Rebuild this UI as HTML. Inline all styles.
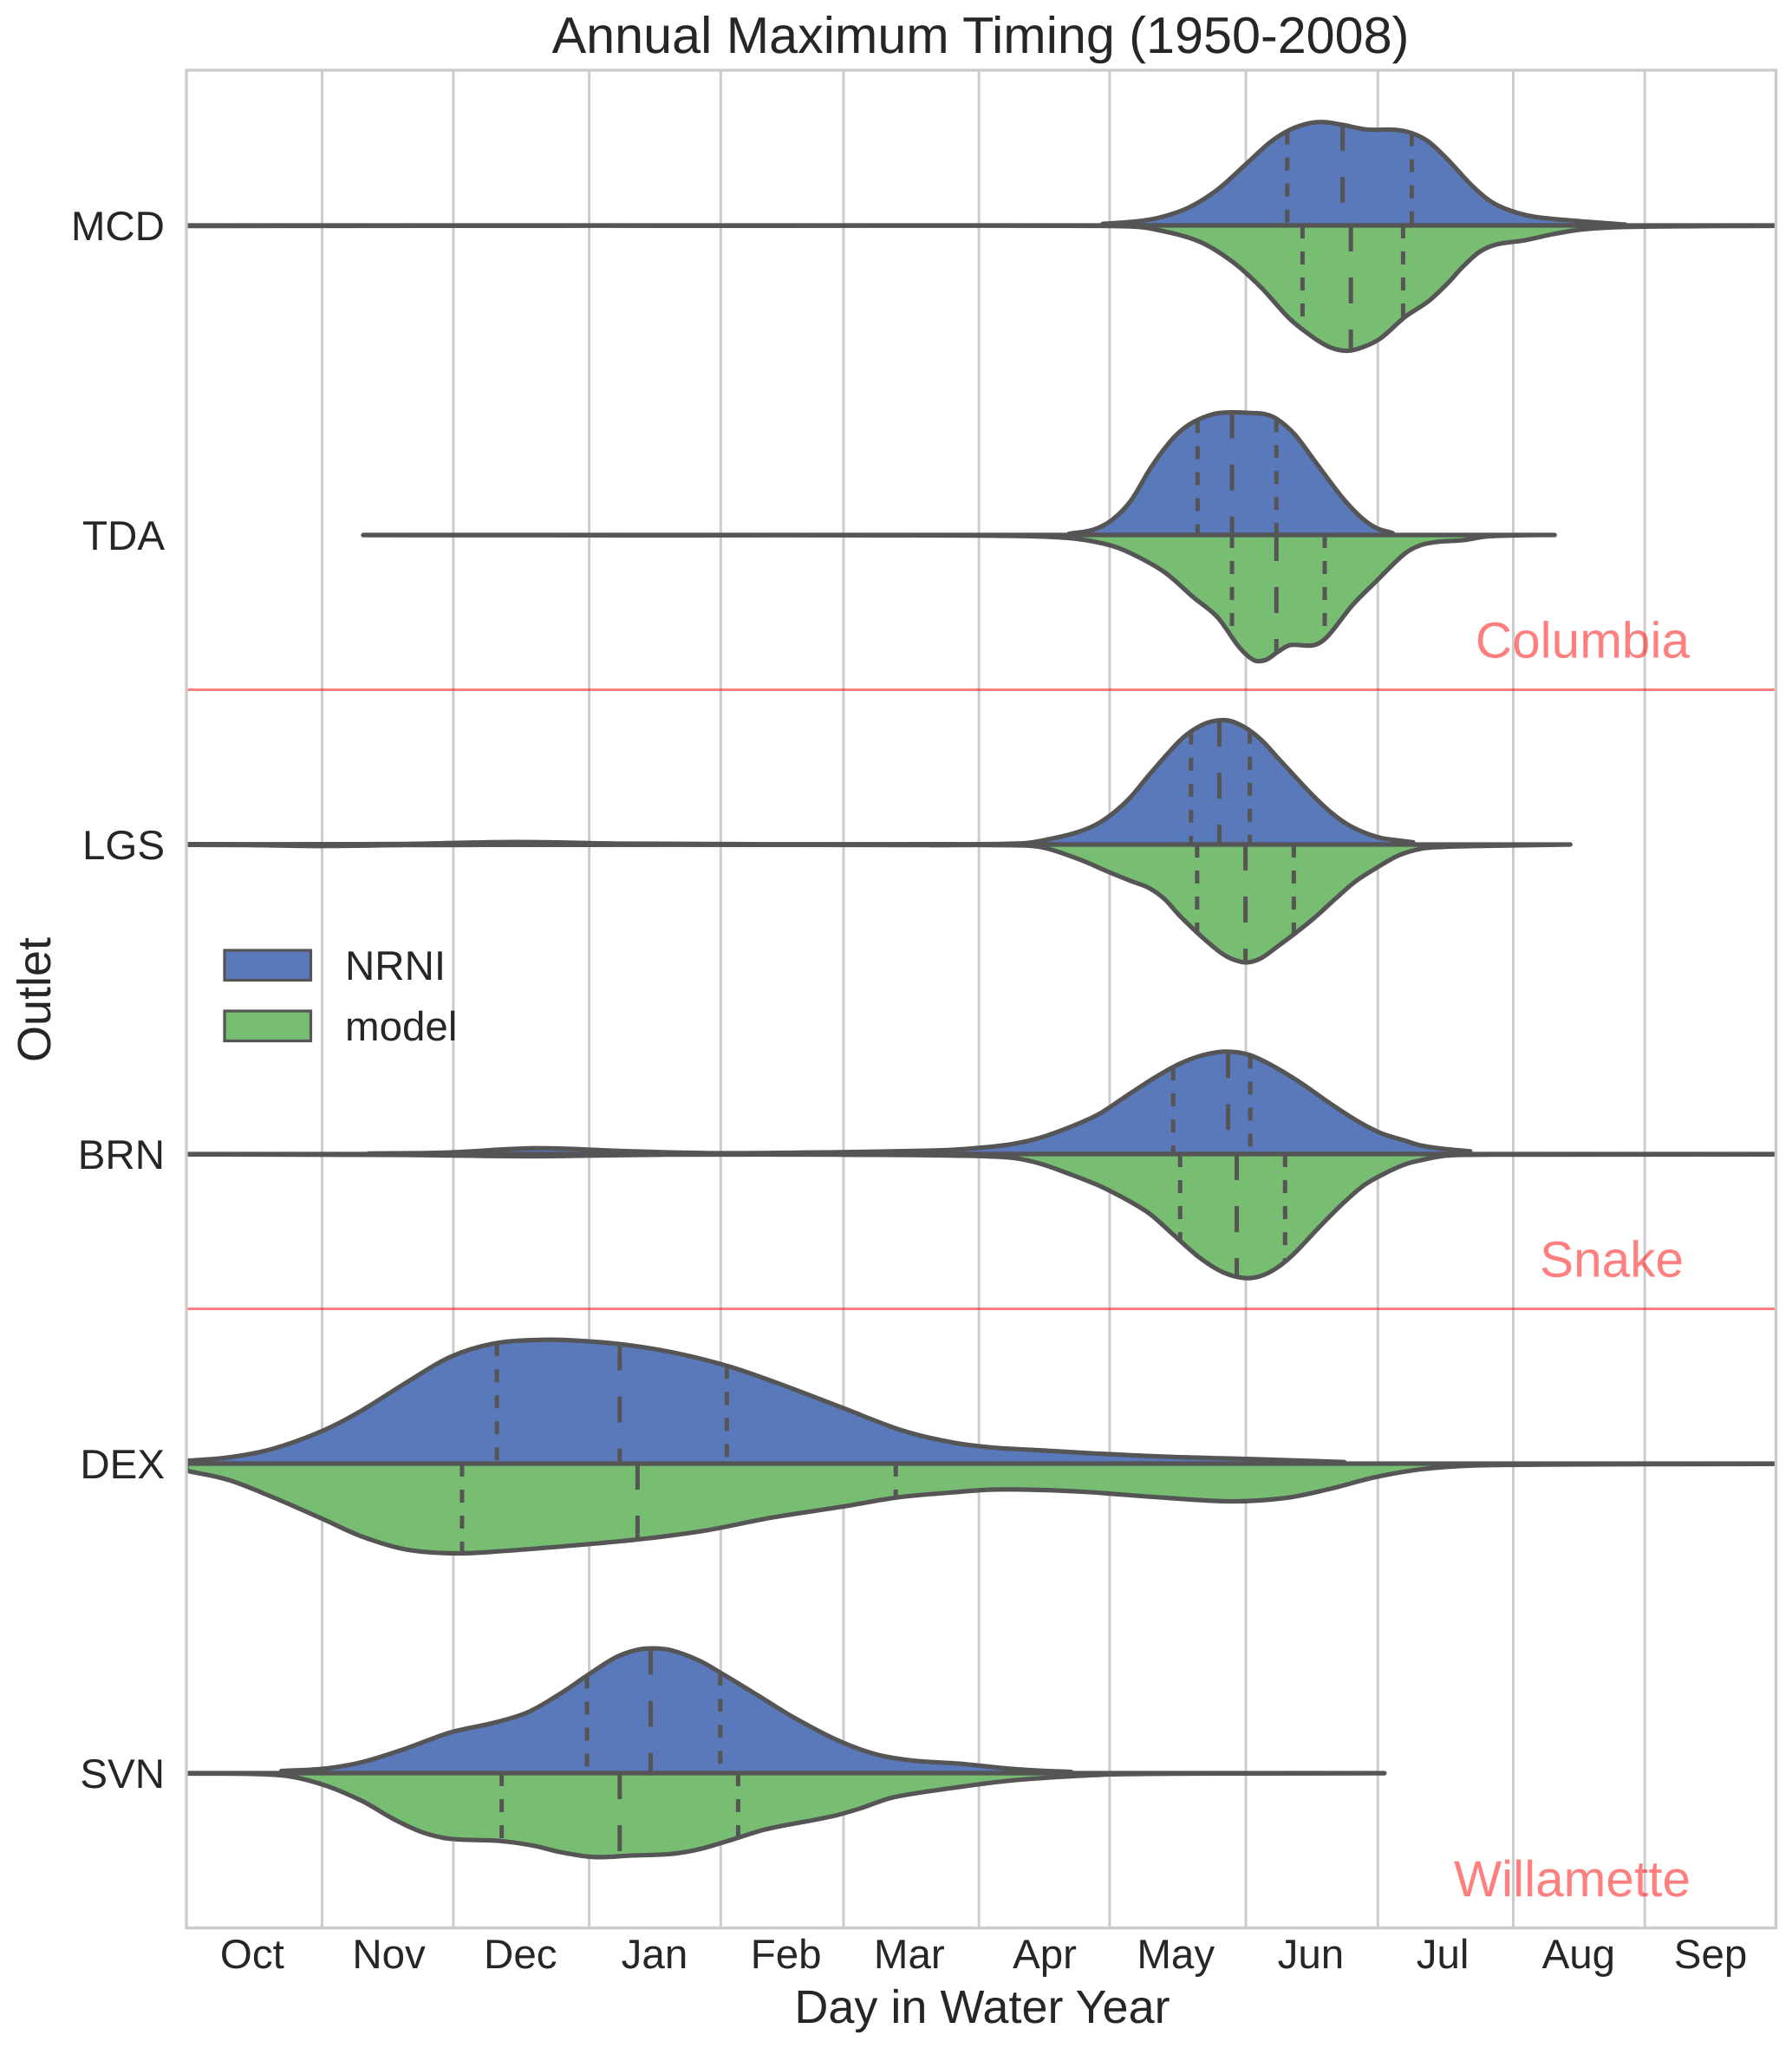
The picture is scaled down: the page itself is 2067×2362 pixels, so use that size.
<!DOCTYPE html>
<html lang="en">
<head>
<meta charset="utf-8">
<title>Annual Maximum Timing (1950-2008)</title>
<style>
html,body{margin:0;padding:0;background:#fff;}
svg{display:block;font-family:"Liberation Sans",Arial,sans-serif;text-rendering:geometricPrecision;}
</style>
</head>
<body>
<svg id="chart" xmlns="http://www.w3.org/2000/svg" width="2067" height="2362" viewBox="0 0 2067 2362">
<defs><clipPath id="plot-clip"><rect x="215" y="81" width="1833.5" height="2142.5"/></clipPath></defs>
<rect x="0" y="0" width="2067" height="2362" fill="#fff"/>
<g id="grid-layer"></g>
<g id="violin-layer" clip-path="url(#plot-clip)"></g>
<g id="divider-layer"></g>
<rect x="215" y="81" width="1833.5" height="2142.5" fill="none" stroke="#ccc" stroke-width="3.4"/>
<g id="tick-layer" fill="#262626" font-size="47.5"></g>
<text x="1131" y="61" text-anchor="middle" font-size="59.3" fill="#262626">Annual Maximum Timing (1950-2008)</text>
<text x="1133" y="2333" text-anchor="middle" font-size="54" fill="#262626">Day in Water Year</text>
<text transform="translate(58 1153) rotate(-90)" text-anchor="middle" font-size="54" fill="#262626">Outlet</text>
<text x="1949" y="758.5" text-anchor="end" font-size="58.5" fill="#ff0000" fill-opacity="0.5">Columbia</text>
<text x="1942" y="1472.5" text-anchor="end" font-size="58.5" fill="#ff0000" fill-opacity="0.5">Snake</text>
<text x="1950" y="2187" text-anchor="end" font-size="58.5" fill="#ff0000" fill-opacity="0.5">Willamette</text>
<g>
<g>
<rect x="259" y="1096" width="99.5" height="34.5" fill="#5979bb" stroke="#555" stroke-width="3.2"/>
<text x="398" y="1130" font-size="47.5" fill="#262626">NRNI</text>
</g>
<g>
<rect x="259" y="1166" width="99.5" height="34.5" fill="#77be72" stroke="#555" stroke-width="3.2"/>
<text x="398" y="1200" font-size="47.5" fill="#262626">model</text>
</g>
</g>
</svg>
<script>
const outlets = ['MCD', 'TDA', 'LGS', 'BRN', 'DEX', 'SVN'];
const monthLabels = ['Oct', 'Nov', 'Dec', 'Jan', 'Feb', 'Mar', 'Apr', 'May', 'Jun', 'Jul', 'Aug', 'Sep'];
const monthLabelDays = [15.1, 46.5, 76.7, 107.5, 137.7, 166, 197.1, 227.2, 258.2, 288.5, 319.7, 350];
const monthStartDays = [31.15, 61.3, 92.5, 122.7, 150.9, 182, 212, 243.3, 273.6, 304.7, 334.9];
const basinDividers = [1.5, 3.5];

const mcdNrniDays = [210.4, 218.1, 223.6, 230.2, 236.8, 243.4, 249, 253.4, 257.8, 261.1, 265.5, 271, 277.6, 281.4, 285.3, 289.7, 295.2, 299.6, 304, 309.5, 317.2, 330.4];
const mcdNrniDensity = [0.5, 1.3, 2.6, 5.8, 11.6, 19.9, 27, 30.9, 33, 33.4, 32.5, 31, 30.9, 29.8, 27, 21.2, 12.9, 7.7, 4.8, 2.8, 1.7, 0.3];
const mcdModelDays = [0, 60, 130, 200, 215.9, 221.4, 232.4, 240.1, 246.7, 253.4, 258.9, 262.7, 266.6, 270.4, 274.3, 279.8, 285.3, 289.7, 293, 296.8, 300.7, 307.3, 313.9, 320.5, 330.4, 365];
const mcdModelDensity = [0.2, 0.1, 0.1, 0.1, 0.3, 1, 5.1, 11.6, 19.9, 30.2, 36.3, 39.4, 40.5, 39.2, 36.4, 29.6, 24.4, 18.6, 13.5, 8.7, 6.2, 4.8, 2.8, 1.3, 0.5, 0.1];
const mcdNrniQuartiles = [252.8, 265.5, 281.4];
const mcdModelQuartiles = [256.3, 267.4, 279.4];

const tdaNrniDays = [202.7, 208.2, 212.6, 217, 221.4, 225.8, 229.1, 232.4, 236.3, 240.1, 244.5, 247.8, 250.6, 254.5, 260, 265.5, 269.9, 273.2, 277];
const tdaNrniDensity = [0.4, 1.7, 4.9, 11.3, 21.6, 30, 34.5, 37.3, 39.2, 39.6, 39.4, 39, 37.3, 32.5, 22.2, 12, 5.5, 2.3, 0.6];
const tdaModelDays = [40.6, 100, 160, 190, 202.7, 211.5, 217, 224.7, 231.3, 236.8, 241.8, 245.1, 247.8, 250.6, 253.4, 258.9, 261.9, 267.7, 273.2, 279.8, 283.6, 287.5, 293, 298.5, 306.2, 314.2];
const tdaModelDensity = [0.05, 0.1, 0.1, 0.3, 1, 3.1, 6, 12.1, 20.2, 26.6, 36.3, 40.4, 40.4, 37.8, 35.6, 35.6, 33, 22.8, 15, 6, 3.2, 2.2, 1.7, 0.5, 0.1, 0];
const tdaNrniQuartiles = [232.2, 240.1, 250.3];
const tdaModelQuartiles = [240.1, 250.3, 261.4];

const lgsNrniDays = [0, 30, 50, 76, 100, 130, 170, 192.1, 198.7, 204, 208.7, 212.7, 216.7, 220.6, 224.6, 228.3, 231.3, 234.6, 237.9, 240.5, 243.9, 247.2, 250.5, 254.5, 258.5, 262.4, 266.4, 270.4, 274.4, 278.4, 281.7];
const lgsNrniDensity = [0.1, 0.1, 0.2, 0.8, 0.3, 0.1, 0.1, 0.4, 1.9, 3.7, 6.3, 10, 15.1, 21.7, 28.2, 33.8, 37.1, 39.4, 40.2, 39.6, 37.1, 33.3, 28.2, 22.1, 16.1, 10.9, 6.7, 3.9, 2.1, 1.3, 0.7];
const lgsModelDays = [0, 15, 30, 50, 90, 140, 170, 192.1, 197.4, 205.4, 212, 217.3, 221, 224.6, 227.9, 231.3, 234.6, 237.9, 240.5, 243.5, 246.8, 250.5, 254.5, 259.1, 263.8, 268.4, 273, 278.4, 283.7, 288.3, 295.6, 317.8];
const lgsModelDensity = [0.1, 0.2, 0.5, 0.2, 0.1, 0.1, 0.2, 0.3, 1.2, 5, 9, 12, 14, 17.6, 22.7, 27.4, 31.6, 35.3, 37.2, 38.1, 36.7, 33, 28.8, 23.6, 17.6, 12, 7.8, 3.5, 1.3, 0.8, 0.5, 0];
const lgsNrniQuartiles = [230.7, 237.2, 244.2];
const lgsModelQuartiles = [232.1, 243.2, 254.3];

const brnNrniDays = [41.8, 60, 80, 100, 120, 150, 170, 176.2, 182.8, 189.5, 196.1, 202.7, 209.4, 216, 222.6, 228, 233.3, 238.6, 243.9, 249.2, 255.8, 262.5, 269.1, 274.4, 279.7, 283.1, 288, 294.8];
const brnNrniDensity = [0.2, 0.5, 1.9, 1, 0.3, 0.6, 1.1, 1.4, 2.1, 3.2, 5.3, 8.6, 12.8, 18.9, 24.9, 29.1, 31.9, 33.1, 32.1, 28.7, 23.1, 16.5, 10.5, 6.7, 4.4, 2.9, 1.8, 0.9];
const brnModelDays = [0, 50, 80, 110, 150, 176.2, 189.5, 196.1, 202.7, 209.4, 216, 221.3, 226.6, 232.6, 237.9, 242.6, 246.5, 250.5, 254.5, 259.8, 265.1, 270.4, 275.7, 279.7, 283.1, 289.3, 299.1, 365];
const brnModelDensity = [0.1, 0.3, 0.7, 0.2, 0.2, 0.5, 1.2, 3.1, 6.4, 10.1, 14.8, 19.4, 26, 33.4, 38.1, 40, 39.5, 36.7, 32, 24.1, 16.6, 10.1, 5.9, 3.4, 2.1, 0.5, 0.2, 0.1];
const brnNrniQuartiles = [226.6, 239.2, 244.3];
const brnModelQuartiles = [228.2, 241.2, 252.3];

const dexNrniDays = [0, 9.7, 19.9, 31.3, 40.2, 50.3, 60.5, 70.7, 82.1, 92.3, 102.4, 113.8, 125.3, 136.7, 150.7, 164.6, 176, 185, 196, 207, 225.4, 243.8, 265.9];
const dexNrniDensity = [0.9, 2, 4.8, 10.6, 17.1, 26, 34.4, 38.8, 40, 39.5, 38.1, 35.3, 31.1, 25.5, 18, 10.6, 6.8, 5.2, 4.3, 3.4, 2.2, 1.5, 0.5];
const dexModelDays = [0, 9.7, 19.9, 31.3, 40.2, 50.3, 61.8, 73.2, 85.9, 103.7, 118.9, 134.2, 150.7, 163.4, 176, 185, 196, 207, 225.4, 240.1, 252.4, 262.2, 273.3, 284.4, 299.1, 365];
const dexModelDensity = [2.3, 5.3, 10.9, 17.9, 23.5, 27.7, 29, 28.2, 26.8, 24.5, 21.7, 17.5, 13.9, 10.9, 9.3, 8.4, 8.5, 9.2, 11.1, 12.2, 11.1, 8.3, 4.3, 1.7, 0.5, 0.1];
const dexNrniQuartiles = [71.3, 99.5, 124.1];
const dexModelQuartiles = [63.3, 103.6, 162.9];

const svnNrniDays = [21.8, 31.3, 40.2, 50.3, 60.5, 70.7, 78.3, 85.9, 92.3, 98.6, 103.7, 107.5, 111.3, 117.7, 124, 131.6, 139.2, 149.4, 158.3, 167.2, 177.3, 188.5, 196, 203.2];
const svnNrniDensity = [0.7, 1.4, 3.5, 7.9, 13.1, 16.3, 19.6, 25.7, 31.8, 37.4, 39.9, 40.3, 39.7, 36.4, 31.3, 24.8, 18.2, 10.7, 6.1, 4, 3.1, 1.5, 0.8, 0.4];
const svnModelDays = [0, 21.8, 31.3, 40.2, 47.8, 54.2, 60.5, 71.9, 79.6, 85.9, 93.5, 102.4, 111.3, 117.7, 125.3, 132.9, 148.1, 154.5, 162.1, 174.8, 188.5, 200.8, 213, 240, 275.1];
const svnModelDensity = [0.1, 0.7, 3.7, 8.9, 15, 19.1, 21.2, 21.9, 23.4, 25.5, 27.1, 26.6, 26.1, 24.6, 21.5, 18.2, 14, 11.5, 7.9, 5, 2.5, 1.2, 0.4, 0.1, 0.05];
const svnNrniQuartiles = [92, 106.6, 122.6];
const svnModelQuartiles = [72.4, 99.5, 126.7];

const seriesDays = [
  [mcdNrniDays, mcdModelDays], [tdaNrniDays, tdaModelDays], [lgsNrniDays, lgsModelDays],
  [brnNrniDays, brnModelDays], [dexNrniDays, dexModelDays], [svnNrniDays, svnModelDays]
];
const seriesDensity = [
  [mcdNrniDensity, mcdModelDensity], [tdaNrniDensity, tdaModelDensity], [lgsNrniDensity, lgsModelDensity],
  [brnNrniDensity, brnModelDensity], [dexNrniDensity, dexModelDensity], [svnNrniDensity, svnModelDensity]
];
const seriesQuartiles = [
  [mcdNrniQuartiles, mcdModelQuartiles], [tdaNrniQuartiles, tdaModelQuartiles], [lgsNrniQuartiles, lgsModelQuartiles],
  [brnNrniQuartiles, brnModelQuartiles], [dexNrniQuartiles, dexModelQuartiles], [svnNrniQuartiles, svnModelQuartiles]
];
const sideNames = ['nrni', 'model'];
const sideColors = ['#5979bb', '#77be72'];

const SVG_NS = 'http://www.w3.org/2000/svg';
function xScale(day) { return 215 + day * 5.023; }
function yScale(index) { return 260 + index * 357; }
function densityScale(value) { return value * 3.57; }

function makeEl(tag, parent, attrs) {
  const el = document.createElementNS(SVG_NS, tag);
  for (const key in attrs) el.setAttribute(key, attrs[key]);
  parent.appendChild(el);
  return el;
}

function interpolate(xs, ys, x) {
  if (x <= xs[0]) return ys[0];
  for (let i = 1; i < xs.length; i++) {
    if (x <= xs[i]) {
      const t = (x - xs[i - 1]) / (xs[i] - xs[i - 1]);
      return ys[i - 1] + t * (ys[i] - ys[i - 1]);
    }
  }
  return ys[ys.length - 1];
}

function hermitePath(xs, ys) {
  const slope = xs.map(function (_, i) {
    const a = Math.max(0, i - 1);
    const b = Math.min(xs.length - 1, i + 1);
    return (ys[b] - ys[a]) / (xs[b] - xs[a]);
  });
  let d = '';
  for (let i = 1; i < xs.length; i++) {
    const dx = (xs[i] - xs[i - 1]) / 3;
    d += ' C' + (xs[i - 1] + dx).toFixed(2) + ' ' + (ys[i - 1] + slope[i - 1] * dx).toFixed(2) +
         ' ' + (xs[i] - dx).toFixed(2) + ' ' + (ys[i] - slope[i] * dx).toFixed(2) +
         ' ' + xs[i].toFixed(2) + ' ' + ys[i].toFixed(2);
  }
  return d;
}

const gridLayer = document.getElementById('grid-layer');
monthStartDays.forEach(function (day, i) {
  const line = makeEl('line', gridLayer, { x1: xScale(day), x2: xScale(day), y1: 81, y2: 2223.5, stroke: '#ccc', 'stroke-width': 3 });
  
  
});

const dividerLayer = document.getElementById('divider-layer');
basinDividers.forEach(function (pos) {
  const line = makeEl('line', dividerLayer, { x1: xScale(0), x2: xScale(365), y1: yScale(pos), y2: yScale(pos), stroke: '#ff0000', 'stroke-opacity': 0.5, 'stroke-width': 3 });
  
  
});

const tickLayer = document.getElementById('tick-layer');
monthLabels.forEach(function (label, i) {
  const t = makeEl('text', tickLayer, { x: xScale(monthLabelDays[i]), y: 2270, 'text-anchor': 'middle' });
  t.textContent = label;
  
  
});
outlets.forEach(function (label, i) {
  const t = makeEl('text', tickLayer, { x: 190, y: yScale(i) + 17, 'text-anchor': 'end' });
  t.textContent = label;
  
  
});

const violinLayer = document.getElementById('violin-layer');
outlets.forEach(function (outlet, i) {
  const center = yScale(i);
  sideNames.forEach(function (side, s) {
    const direction = s === 0 ? -1 : 1;
    const days = seriesDays[i][s];
    const density = seriesDensity[i][s];
    const px = days.map(xScale);
    const py = density.map(function (v) { return center + direction * densityScale(v); });
    const d = 'M' + px[0].toFixed(2) + ' ' + center + ' L' + px[0].toFixed(2) + ' ' + py[0].toFixed(2) +
      hermitePath(px, py) + ' L' + px[px.length - 1].toFixed(2) + ' ' + center + ' Z';
    const body = makeEl('path', violinLayer, { d: d, fill: sideColors[s], stroke: '#555', 'stroke-width': 5.2, 'stroke-linejoin': 'round', 'stroke-linecap': 'round' });
    
    
    seriesQuartiles[i][s].forEach(function (q, k) {
      const outer = center + direction * densityScale(interpolate(days, density, q));
      const dash = k === 1 ? '30 30' : '15 15';
      const y1 = s === 0 ? outer : center;
      const y2 = s === 0 ? center : outer;
      const line = makeEl('line', violinLayer, { x1: xScale(q), x2: xScale(q), y1: y1, y2: y2, stroke: '#555', 'stroke-width': 5, 'stroke-dasharray': dash });
      
      
    });
  });
});
</script>
</body>
</html>
